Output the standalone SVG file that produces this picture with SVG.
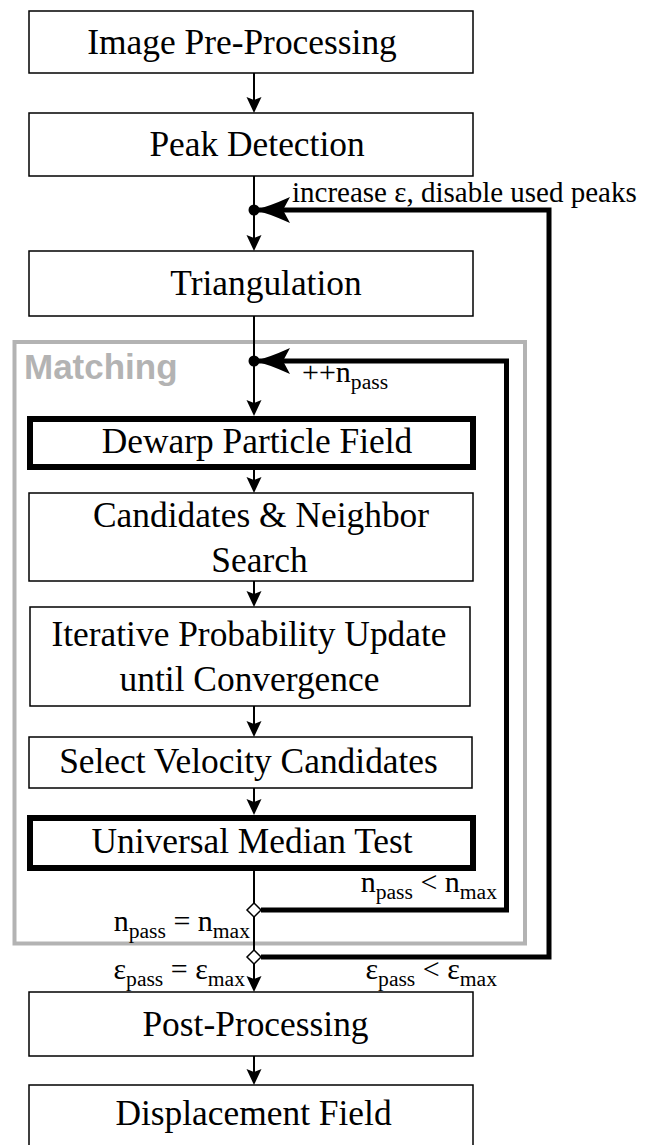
<svg xmlns="http://www.w3.org/2000/svg" width="651" height="1145" viewBox="0 0 651 1145">
<style>
.box{fill:#fff;stroke:#000;stroke-width:1.5}
.thick{fill:#fff;stroke:#000;stroke-width:6}
.t{font-family:"Liberation Serif","Times New Roman",serif;font-size:35.4px;fill:#000;text-anchor:middle}
.lbl{font-family:"Liberation Serif","Times New Roman",serif;font-size:30px;fill:#000}
.sub{font-size:21.6px}
.flow{stroke:#000;stroke-width:2;fill:none;marker-end:url(#arr)}
.loop{stroke:#000;stroke-width:5;fill:none;stroke-linejoin:miter;marker-end:url(#big)}
.dia{fill:#fff;stroke:#000;stroke-width:1.5}
.group{fill:none;stroke:#b3b3b3;stroke-width:4}
.gl{font-family:"Liberation Sans",Arial,sans-serif;font-weight:bold;font-size:35px;fill:#b3b3b3}
</style>
<defs>
<marker id="arr" markerUnits="userSpaceOnUse" markerWidth="20" markerHeight="20" refX="8" refY="0" orient="auto" overflow="visible">
<path d="M0,-7.5 L16,0 L0,7.5 L3,0 Z" fill="#000"/>
</marker>
<marker id="big" markerUnits="userSpaceOnUse" markerWidth="40" markerHeight="30" refX="36" refY="0" orient="auto" overflow="visible">
<path d="M36,0 Q22,-3 0,-13 L7,0 L0,13 Q22,3 36,0 Z" fill="#000"/>
</marker>
</defs>

<g id="matching-group">
<rect class="group" x="14.5" y="342" width="510.5" height="601.5"/>
<text class="gl" x="24" y="379">Matching</text>
</g>

<g id="connectors">
<line class="flow" x1="254" y1="73" x2="254" y2="105"/>
<line class="flow" x1="254" y1="176" x2="254" y2="243"/>
<line class="flow" x1="254" y1="316" x2="254" y2="408"/>
<line class="flow" x1="254" y1="470" x2="254" y2="485"/>
<line class="flow" x1="254" y1="581" x2="254" y2="599"/>
<line class="flow" x1="254" y1="706" x2="254" y2="729"/>
<line class="flow" x1="254" y1="788" x2="254" y2="807"/>
<line class="flow" x1="254" y1="871" x2="254" y2="984"/>
<line class="flow" x1="254" y1="1056" x2="254" y2="1077"/>
<path class="loop" d="M261,910 H506.5 V361 H254"/>
<path class="loop" d="M261,957 H549 V210 H254"/>
<circle cx="254" cy="210" r="5.5" fill="#000"/>
<circle cx="254" cy="361" r="5.5" fill="#000"/>
<path class="dia" d="M254,903 L261,910 L254,917 L247,910 Z"/>
<path class="dia" d="M254,950 L261,957 L254,964 L247,957 Z"/>
<text class="lbl" x="292" y="202" style="font-size:29px">increase ε, disable used peaks</text>
<text class="lbl" x="302" y="382">++n<tspan class="sub" dy="7">pass</tspan></text>
<text class="lbl" x="497" y="892" text-anchor="end">n<tspan class="sub" dy="7">pass</tspan><tspan dy="-7"> &lt; n</tspan><tspan class="sub" dy="7">max</tspan></text>
<text class="lbl" x="250" y="931" text-anchor="end">n<tspan class="sub" dy="7">pass</tspan><tspan dy="-7"> = n</tspan><tspan class="sub" dy="7">max</tspan></text>
<text class="lbl" x="245" y="979" text-anchor="end">ε<tspan class="sub" dy="7">pass</tspan><tspan dy="-7"> = ε</tspan><tspan class="sub" dy="7">max</tspan></text>
<text class="lbl" x="497" y="979" text-anchor="end">ε<tspan class="sub" dy="7">pass</tspan><tspan dy="-7"> &lt; ε</tspan><tspan class="sub" dy="7">max</tspan></text>
</g>

<g id="image-preprocessing">
<rect class="box" x="29" y="11" width="444" height="62"/>
<text class="t" x="242" y="54">Image Pre-Processing</text>
</g>
<g id="peak-detection">
<rect class="box" x="29" y="113" width="444" height="63"/>
<text class="t" x="257" y="156">Peak Detection</text>
</g>
<g id="triangulation">
<rect class="box" x="29" y="251" width="444" height="65"/>
<text class="t" x="266" y="295">Triangulation</text>
</g>
<g id="dewarp">
<rect class="thick" x="30" y="419" width="443" height="48"/>
<text class="t" x="257" y="453">Dewarp Particle Field</text>
</g>
<g id="candidates">
<rect class="box" x="29" y="493" width="444" height="88"/>
<text class="t" x="261" y="527">Candidates &amp; Neighbor</text>
<text class="t" x="259.5" y="572">Search</text>
</g>
<g id="iterative">
<rect class="box" x="30" y="607" width="440" height="99"/>
<text class="t" x="249" y="646">Iterative Probability Update</text>
<text class="t" x="249.5" y="691">until Convergence</text>
</g>
<g id="select">
<rect class="box" x="29" y="737" width="443" height="51"/>
<text class="t" x="248.5" y="773">Select Velocity Candidates</text>
</g>
<g id="median-test">
<rect class="thick" x="30" y="818" width="443" height="50"/>
<text class="t" x="252" y="853">Universal Median Test</text>
</g>
<g id="post-processing">
<rect class="box" x="29" y="992" width="444" height="64"/>
<text class="t" x="255.5" y="1036">Post-Processing</text>
</g>
<g id="displacement-field">
<rect class="box" x="29" y="1085" width="444" height="80"/>
<text class="t" x="253.5" y="1125">Displacement Field</text>
</g>
</svg>
